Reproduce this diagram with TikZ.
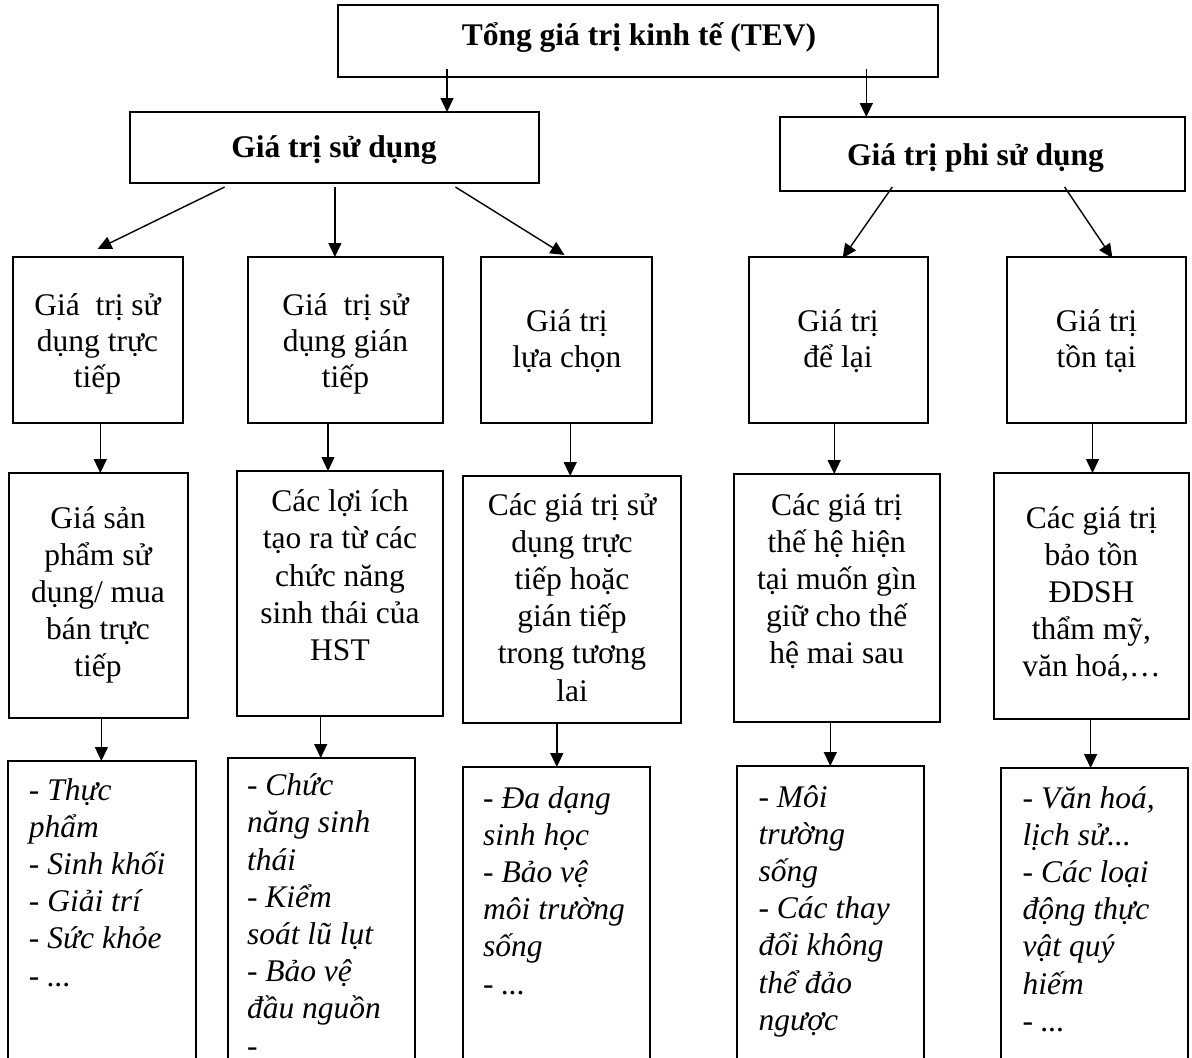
\documentclass[tikz,border=0pt]{standalone}
\usepackage{fontspec}
\setmainfont{Liberation Serif}
\usetikzlibrary{arrows.meta,calc}
\begin{document}
\begin{tikzpicture}[x=1pt,y=-1pt,
  box/.style={draw, line width=2pt, inner sep=0pt, outer sep=0pt, anchor=north west},
  arr/.style={-{Triangle[width=13pt,length=14pt]}, line width=1.4pt},
  txt/.style={font=\fontsize{31.5}{37.2}\selectfont, inner sep=0pt, align=center, anchor=base},
  txttwo/.style={font=\fontsize{31.5}{36}\selectfont, inner sep=0pt, align=center, anchor=base},
  hd/.style={font=\fontsize{31.5}{37.2}\selectfont\bfseries, inner sep=0pt, align=center, anchor=base},
  itx/.style={font=\fontsize{31.5}{37.2}\selectfont\itshape, inner sep=0pt, align=left, anchor=base west}]
\fill[white] (0,0) rectangle (1192,1058);
\clip (0,0) rectangle (1192,1058);
% level 0 and 1
\node[box, minimum width=600.8pt, minimum height=72pt] (tev) at (337.5,5) {};
\node[box, minimum width=409.1pt, minimum height=71pt] (gtsd) at (129.7,112) {};
\node[box, minimum width=404.8pt, minimum height=74pt] (gtpsd) at (780.2,117) {};
% row 2
\node[box, minimum width=170.4pt, minimum height=166pt] (a2) at (12.6,257) {};
\node[box, minimum width=194.8pt, minimum height=166pt] (b2) at (248,257) {};
\node[box, minimum width=171pt, minimum height=166pt] (c2) at (481.4,257) {};
\node[box, minimum width=178.7pt, minimum height=166pt] (d2) at (748.8,257) {};
\node[box, minimum width=178.8pt, minimum height=166pt] (e2) at (1007.1,257) {};
% row 3
\node[box, minimum width=178.7pt, minimum height=245pt] (a3) at (8.8,473) {};
\node[box, minimum width=205.5pt, minimum height=245pt] (b3) at (237.3,471) {};
\node[box, minimum width=217.6pt, minimum height=247pt] (c3) at (463.1,476) {};
\node[box, minimum width=206.3pt, minimum height=248pt] (d3) at (733.5,474) {};
\node[box, minimum width=195.1pt, minimum height=246pt] (e3) at (993.8,473) {};
% row 4 (cut by the page bottom)
\node[box, minimum width=187.6pt, minimum height=330pt] (a4) at (8.4,761) {};
\node[box, minimum width=186.8pt, minimum height=330pt] (b4) at (227.7,758) {};
\node[box, minimum width=187pt, minimum height=330pt] (c4) at (463,767) {};
\node[box, minimum width=186.8pt, minimum height=330pt] (d4) at (737.3,766) {};
\node[box, minimum width=186.4pt, minimum height=330pt] (e4) at (1001.4,768) {};
% texts (base = baseline of the last line)
\node[hd] (ttev) at (639,45) {Tổng giá trị kinh tế (TEV)};
\node[hd] (tgtsd) at (334,157) {Giá trị sử dụng};
\node[hd] (tgtpsd) at (975.5,165) {Giá trị phi sử dụng};
\node[txttwo] (ta2) at (97.5,387) {Giá\ \ trị sử\\dụng trực\\tiếp};
\node[txttwo] (tb2) at (345.5,387) {Giá\ \ trị sử\\dụng gián\\tiếp};
\node[txttwo] (tc2) at (566.9,367.6) {Giá trị\\lựa chọn};
\node[txttwo] (td2) at (838,367.6) {Giá trị\\để lại};
\node[txttwo] (te2) at (1096.5,367.6) {Giá trị\\tồn tại};
\node[txt] (ta3) at (98,676.8) {Giá sản\\phẩm sử\\dụng/ mua\\bán trực\\tiếp};
\node[txt] (tb3) at (340,660.5) {Các lợi ích\\tạo ra từ các\\chức năng\\sinh thái của\\HST};
\node[txt] (tc3) at (572,701) {Các giá trị sử\\dụng trực\\tiếp hoặc\\gián tiếp\\trong tương\\lai};
\node[txt] (td3) at (836.7,663.8) {Các giá trị\\thế hệ hiện\\tại muốn gìn\\giữ cho thế\\hệ mai sau};
\node[txt] (te3) at (1091.4,676.8) {Các giá trị\\bảo tồn\\ĐDSH\\thẩm mỹ,\\văn hoá,…};
\node[itx] (ta4) at (28.7,986) {- Thực\\phẩm\\- Sinh khối\\- Giải trí\\- Sức khỏe\\- ...};
\node[itx] (tb4) at (246.8,1056) {- Chức\\năng sinh\\thái\\- Kiểm\\soát lũ lụt\\- Bảo vệ\\đầu nguồn\\-};
\node[itx] (tc4) at (483,994) {- Đa dạng\\sinh học\\- Bảo vệ\\môi trường\\sống\\- ...};
\node[itx] (td4) at (758.4,1030.2) {- Môi\\trường\\sống\\- Các thay\\đổi không\\thể đảo\\ngược};
\node[itx] (te4) at (1022.5,1031.2) {- Văn hoá,\\lịch sử...\\- Các loại\\động thực\\vật quý\\hiếm\\- ...};
% connectors
\draw[arr] ($(tev.south)+(-190.9,-8)$) -- ($(gtsd.north)+(112.75,0)$);
\draw[arr] ($(tev.south)+(228.4,-8)$) -- ($(gtpsd.north)+(-116.3,0)$);
\draw[arr] ($(gtsd.south)+(-109.65,4)$) -- ($(a2.north)+(-0.2,-8)$);
\draw[arr] ($(gtsd.south)+(0.65,4)$) -- ($(b2.north)+(-10.5,0)$);
\draw[arr] ($(gtsd.south)+(121.15,4)$) -- ($(c2.north)+(-2.4,-2)$);
\draw[arr] ($(gtpsd.south)+(-90.3,-4)$) -- ($(d2.north)+(4.45,1)$);
\draw[arr] ($(gtpsd.south)+(82,-4)$) -- ($(e2.north)+(15.9,1)$);
\draw[arr] (100.3,0 |- a2.south) -- (100.3,0 |- a3.north);
\draw[arr] (328,0 |- b2.south) -- (328,0 |- b3.north);
\draw[arr] (570.2,0 |- c2.south) -- (570.2,0 |- c3.north);
\draw[arr] (834.2,0 |- d2.south) -- (834.2,0 |- d3.north);
\draw[arr] (1092.5,0 |- e2.south) -- (1092.5,0 |- e3.north);
\draw[arr] (101.4,0 |- a3.south) -- (101.4,0 |- a4.north);
\draw[arr] (320.7,0 |- b3.south) -- (320.7,0 |- b4.north);
\draw[arr] (556.8,0 |- c3.south) -- (556.8,0 |- c4.north);
\draw[arr] (830.3,0 |- d3.south) -- (830.3,0 |- d4.north);
\draw[arr] (1090.6,0 |- e3.south) -- (1090.6,0 |- e4.north);
\end{tikzpicture}
\end{document}
